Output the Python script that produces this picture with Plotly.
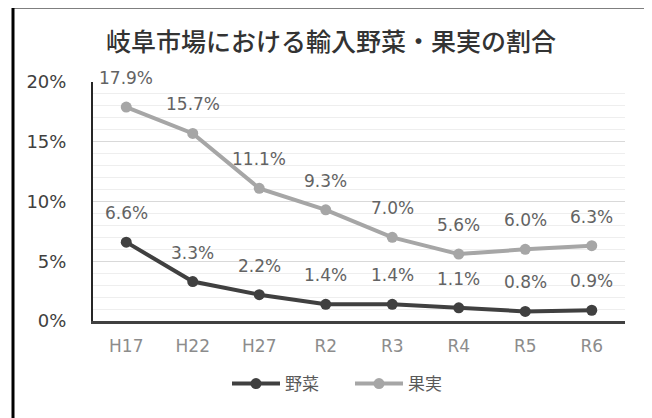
import plotly.graph_objects as go

categories = ["H17", "H22", "H27", "R2", "R3", "R4", "R5", "R6"]
vegetables = [6.6, 3.3, 2.2, 1.4, 1.4, 1.1, 0.8, 0.9]
fruits = [17.9, 15.7, 11.1, 9.3, 7.0, 5.6, 6.0, 6.3]
series_names = ["野菜", "果実"]
title_text = "岐阜市場における輸入野菜・果実の割合"

OFF = 8  # page body margin in the browser
W, H = 652 - OFF, 418 - OFF
# target pixel positions in the screenshot
PL, PR, PT, PB = 93, 625, 82, 321
L, T = PL - OFF, PT - OFF
R, B = W - (PR - OFF), H - (PB - OFF)
pw, ph = PR - PL, PB - PT

def px_x(p):
    return (p - PL) / pw

def px_y(p):
    return (PB - p) / ph

fig = go.Figure()
fig.add_trace(go.Scatter(x=categories, y=vegetables, name=series_names[0], mode="lines+markers",
                         line=dict(color="#404040", width=4), marker=dict(size=11, color="#404040")))
fig.add_trace(go.Scatter(x=categories, y=fruits, name=series_names[1], mode="lines+markers",
                         line=dict(color="#a6a6a6", width=4), marker=dict(size=11, color="#a6a6a6")))

annotations = []
for vals in (vegetables, fruits):
    for c, v in zip(categories, vals):
        annotations.append(dict(x=c, y=v, text=f"{v:.1f}%", showarrow=False, yshift=29,
                                font=dict(family="DejaVu Sans", size=17, color="#636363")))

fig.update_layout(
    width=W, height=H,
    margin=dict(l=L, r=R, t=T, b=B),
    paper_bgcolor="white", plot_bgcolor="white",
    title=dict(text=title_text, x=px_x(331), xref="paper", xanchor="center",
               y=1 - (42 - OFF) / H, yref="container", yanchor="middle",
               font=dict(family="Noto Sans CJK JP", size=25, color="#333333", weight=500)),
    showlegend=True,
    legend=dict(orientation="h", x=px_x(350), y=px_y(384), xanchor="center", yanchor="middle",
                font=dict(family="Noto Sans CJK JP", size=17, color="#595959"),
                itemwidth=48, entrywidth=60, entrywidthmode="pixels",
                bgcolor="rgba(0,0,0,0)"),
    annotations=annotations,
    xaxis=dict(type="category", range=[-0.5, 7.5], showgrid=False, zeroline=False,
               showline=True, linecolor="#404040", linewidth=3,
               tickfont=dict(family="DejaVu Sans", size=17, color="#8c8c8c"),
               ticks="", ticklabelstandoff=8),
    yaxis=dict(range=[0, 20], dtick=5, ticksuffix="%", showgrid=True, gridcolor="#d9d9d9",
               gridwidth=1, zeroline=False, showline=True, linecolor="#262626", linewidth=2,
               tickfont=dict(family="DejaVu Sans", size=18, color="#404040"),
               ticks="", ticklabelstandoff=21,
               minor=dict(dtick=1, showgrid=True, gridcolor="#eeeeee", gridwidth=1)),
    shapes=[
        dict(type="line", xref="paper", yref="paper", x0=px_x(13), x1=px_x(13), y0=px_y(430), y1=px_y(7),
             line=dict(color="black", width=3)),
        dict(type="line", xref="paper", yref="paper", x0=px_x(13), x1=px_x(670), y0=px_y(7), y1=px_y(7),
             line=dict(color="black", width=3)),
    ],
)

fig.write_html("out.html")
